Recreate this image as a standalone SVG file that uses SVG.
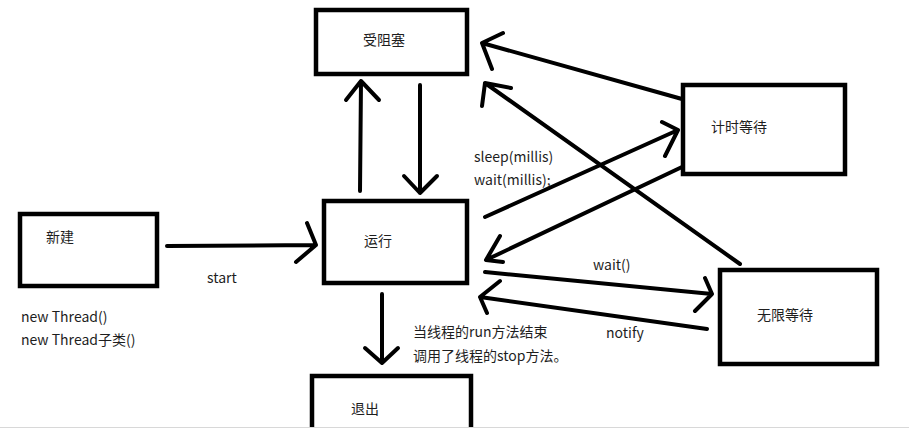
<svg xmlns="http://www.w3.org/2000/svg" width="909" height="431" viewBox="0 0 909 431">
<style>
.box{fill:#fff;stroke:#000;stroke-width:4.5}
.t{font-family:"Noto Sans CJK SC","Liberation Sans",sans-serif;font-size:14px;fill:#1e1e1e}
.c path{fill:none;stroke:#000;stroke-width:4;stroke-linecap:round;stroke-linejoin:round}
</style>
<rect width="909" height="431" fill="#fff"/>
<g id="blocked"><rect class="box" x="316" y="10" width="151" height="64"/><text class="t" x="363" y="45">受阻塞</text></g>
<g id="new"><rect class="box" x="20" y="214" width="137" height="72"/><text class="t" x="46" y="242">新建</text></g>
<g id="running"><rect class="box" x="324" y="201" width="143" height="82"/><text class="t" x="364" y="246">运行</text></g>
<g id="exit"><rect class="box" x="312" y="376" width="159" height="70"/><text class="t" x="351" y="414">退出</text></g>
<g id="timed"><rect class="box" x="683" y="85" width="162" height="89"/><text class="t" x="711" y="132">计时等待</text></g>
<g id="waiting"><rect class="box" x="720" y="270" width="157" height="94"/><text class="t" x="757" y="320">无限等待</text></g>
<g class="c" id="connectors">
<path d="M167,246 L316,245 M307,223 L316,245 L296,262"/>
<path d="M360,191 L361,81 M346,100 L361,81 L379,100"/>
<path d="M420,85 L420,193 M404,176 L420,193 L437,176"/>
<path d="M682,99 L482,43 M503,33 L482,43 L492,69"/>
<path d="M740,264 L485,83 M511,88 L485,83 L482,106"/>
<path d="M485,217 L678,130 M662,122 L678,130 L665,156"/>
<path d="M682,167 L486,260 M500,236 L486,260 L503,262"/>
<path d="M485,272 L712,294 M705,278 L712,294 L695,311"/>
<path d="M707,329 L480,297 M500,281 L480,297 L487,313"/>
<path d="M382,294 L382,363 M365,348 L382,363 L398,348"/>
</g>
<g id="labels">
<text class="t" x="207" y="283">start</text>
<text class="t" x="21" y="322">new Thread()</text>
<text class="t" x="21" y="345">new Thread子类()</text>
<text class="t" x="474" y="162">sleep(millis)</text>
<text class="t" x="474" y="185">wait(millis);</text>
<text class="t" x="593" y="270">wait()</text>
<text class="t" x="606" y="338">notify</text>
<text class="t" x="413" y="337">当线程的run方法结束</text>
<text class="t" x="413" y="361">调用了线程的stop方法。</text>
</g>
<rect x="0" y="428" width="909" height="3" fill="#fff"/>
<line x1="0" y1="427.5" x2="909" y2="427.5" stroke="#d8d8d8" stroke-width="1"/>
</svg>
